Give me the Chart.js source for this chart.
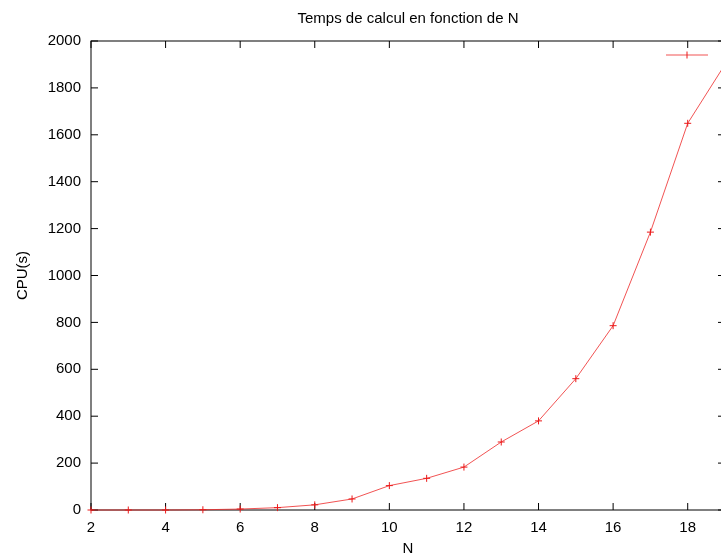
<!DOCTYPE html>
<html>
<head>
<meta charset="utf-8">
<title>Temps de calcul en fonction de N</title>
<script src="https://cdn.jsdelivr.net/npm/chart.js@4/dist/chart.umd.min.js"></script>
<style>
  html, body { margin: 0; padding: 0; background: #fff; overflow: hidden; width: 721px; height: 559px; }
  #wrap { width: 721px; height: 559px; overflow: hidden; position: relative; }
  #plot { position: absolute; left: 0; top: 0; }
</style>
</head>
<body>
<div id="wrap"><canvas id="plot" width="725" height="559"></canvas></div>
<script>
// mesures : taille du problème N et temps CPU (s)
var nValues = [2, 3, 4, 5, 6, 7, 8, 9, 10, 11, 12, 13, 14, 15, 16, 17, 18, 19];
var cpuTimes = [0, 0, 0, 1, 4, 10, 22, 47, 104, 135, 183, 290, 380, 560, 786, 1185, 1649, 1900];
var plotTitle = 'Temps de calcul en fonction de N';

var TICK = 7;
var lineColor = 'rgba(238, 40, 40, 0.8)';
var markColor = 'rgb(235, 25, 25)';

Chart.defaults.font.family = '"Liberation Sans", Arial, sans-serif';
Chart.defaults.font.size = 15;
Chart.defaults.color = '#000';

// cadre façon gnuplot : bordure + graduations vers l'intérieur sur les 4 côtés, clé en haut à droite
var gnuplotFrame = {
    id: 'gnuplotFrame',
    beforeDatasetsDraw(chart) {
        var ctx = chart.ctx;
        var a = chart.chartArea;
        var x = chart.scales.x;
        var y = chart.scales.y;
        ctx.save();
        ctx.strokeStyle = '#000';
        ctx.lineWidth = 1;
        ctx.strokeRect(a.left, a.top, a.right - a.left, a.bottom - a.top);
        ctx.beginPath();
        x.ticks.forEach(function (t) {
            var px = x.getPixelForValue(t.value);
            ctx.moveTo(px, a.bottom); ctx.lineTo(px, a.bottom - TICK);
            ctx.moveTo(px, a.top); ctx.lineTo(px, a.top + TICK);
        });
        y.ticks.forEach(function (t) {
            var py = y.getPixelForValue(t.value);
            ctx.moveTo(a.left, py); ctx.lineTo(a.left + TICK, py);
            ctx.moveTo(a.right, py); ctx.lineTo(a.right - TICK, py);
        });
        ctx.stroke();

        // titre centré sur la zone de tracé
        ctx.fillStyle = '#000';
        ctx.font = '15px "Liberation Sans", Arial, sans-serif';
        ctx.textAlign = 'center';
        ctx.textBaseline = 'alphabetic';
        ctx.fillText(plotTitle, (a.left + a.right) / 2, 23);

        // échantillon de la clé
        var ky = a.top + 14;
        var kx0 = a.right - 59, kx1 = a.right - 17, kc = (kx0 + kx1) / 2;
        ctx.strokeStyle = lineColor;
        ctx.beginPath();
        ctx.moveTo(kx0, ky); ctx.lineTo(kx1, ky);
        ctx.stroke();
        ctx.strokeStyle = markColor;
        ctx.beginPath();
        ctx.moveTo(kc, ky - 3.5); ctx.lineTo(kc, ky + 3.5);
        ctx.stroke();
        ctx.restore();
    }
};

var ctxPlot = document.getElementById('plot').getContext('2d');

var chart = new Chart(ctxPlot, {
    type: 'line',
    data: {
        datasets: [{
            label: '',
            data: nValues.map(function (n, i) { return { x: n, y: cpuTimes[i] }; }),
            borderColor: lineColor,
            backgroundColor: markColor,
            pointBorderColor: markColor,
            borderWidth: 1,
            pointStyle: 'cross',
            pointRadius: 3.5,
            pointBorderWidth: 1,
            pointHoverRadius: 3.5,
            tension: 0,
            fill: false,
            clip: false
        }]
    },
    options: {
        responsive: false,
        animation: false,
        events: [],
        layout: { autoPadding: false, padding: { left: 0, right: 0, top: 41, bottom: 0 } },
        plugins: {
            legend: { display: false },
            tooltip: { enabled: false },
            title: { display: false }
        },
        scales: {
            x: {
                type: 'linear',
                min: 2,
                max: 19,
                grid: { display: false, drawTicks: false },
                border: { display: false },
                ticks: { stepSize: 2, includeBounds: false, padding: 9, maxRotation: 0 },
                title: { display: true, text: 'N', padding: { top: 0, bottom: 1 } },
                afterFit: function (scale) { scale.height = 49; }
            },
            y: {
                min: 0,
                max: 2000,
                grid: { display: false, drawTicks: false },
                border: { display: false },
                ticks: {
                    stepSize: 200,
                    padding: 10,
                    callback: function (v) { return String(v); }
                },
                title: { display: true, text: 'CPU(s)', padding: { top: 14, bottom: 0 } },
                afterFit: function (scale) { scale.width = 91; }
            }
        }
    },
    plugins: [gnuplotFrame]
});
</script>
</body>
</html>
